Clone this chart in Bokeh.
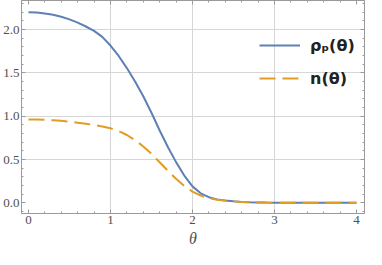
from bokeh.plotting import figure
from bokeh.models import (Range1d, FixedTicker, LinearAxis, Legend, LegendItem,
                          CustomJSTickFormatter)
from bokeh.embed import file_html
from bokeh.resources import INLINE

# ---- data ----
theta = [0.0, 0.1, 0.2, 0.3, 0.4, 0.5, 0.6, 0.7, 0.8, 0.9,
         1.0, 1.1, 1.2, 1.3, 1.4, 1.5, 1.6, 1.7, 1.8, 1.9,
         2.0, 2.1, 2.2, 2.3, 2.4, 2.5, 2.6, 2.7, 2.8, 2.9,
         3.0, 3.5, 4.0]
rho_p = [2.200, 2.196, 2.186, 2.170, 2.147, 2.117, 2.079, 2.035, 1.985, 1.915,
         1.815, 1.695, 1.555, 1.400, 1.230, 1.040, 0.835, 0.645, 0.470, 0.315,
         0.190, 0.110, 0.065, 0.040, 0.026, 0.017, 0.011, 0.007, 0.005, 0.003,
         0.002, 0.000, 0.000]
n_theta = [0.963, 0.961, 0.958, 0.953, 0.946, 0.936, 0.925, 0.913, 0.899, 0.881,
           0.860, 0.828, 0.783, 0.723, 0.651, 0.566, 0.468, 0.370, 0.277, 0.196,
           0.130, 0.083, 0.053, 0.036, 0.025, 0.017, 0.011, 0.007, 0.005, 0.003,
           0.002, 0.000, 0.000]
x_major = [0, 1, 2, 3, 4]
x_labels = ["0", "1", "2", "3", "4"]
x_minor = [i * 0.2 for i in range(-1, 21)]
y_major = [0.0, 0.5, 1.0, 1.5, 2.0]
y_labels = ["0.0", "0.5", "1.0", "1.5", "2.0"]
y_minor = [i * 0.1 for i in range(-2, 24)]
x_grid = [1, 2, 3]
y_grid = [0.5, 1.0, 1.5, 2.0]

BLUE = "#5E81B5"
ORANGE = "#E19C24"
FRAME = "#9a9a9a"
LABEL = "#505050"
SERIF = "'Liberation Serif', 'Times New Roman', serif"

p = figure(width=366, height=249, output_backend="svg", toolbar_location=None,
           x_range=Range1d(-0.085, 4.098), y_range=Range1d(-0.123, 2.335),
           min_border_left=0, min_border_right=2, min_border_top=0, min_border_bottom=0)
p.background_fill_color = "white"
p.border_fill_color = "white"
p.outline_line_color = FRAME

for ax, maj, mnr, labs in ((p.xaxis[0], x_major, x_minor, x_labels),
                           (p.yaxis[0], y_major, y_minor, y_labels)):
    ax.ticker = FixedTicker(ticks=maj, minor_ticks=mnr)
    ax.major_label_overrides = {float(t): s for t, s in zip(maj, labs)}
    ax.major_tick_in = 4
    ax.major_tick_out = 0
    ax.minor_tick_in = 2
    ax.minor_tick_out = 0
    ax.axis_line_color = FRAME
    ax.major_tick_line_color = FRAME
    ax.minor_tick_line_color = FRAME
    ax.major_label_text_font = SERIF
    ax.major_label_text_font_size = "13px"
    ax.major_label_text_color = LABEL
    ax.major_label_standoff = 2

p.xaxis.axis_label = "θ"
p.xaxis.axis_label_text_font = SERIF
p.xaxis.axis_label_text_font_style = "italic"
p.xaxis.axis_label_text_font_size = "16px"
p.xaxis.axis_label_text_color = LABEL
p.xaxis.axis_label_standoff = 3

empty = CustomJSTickFormatter(code="return ''")
for loc, maj, mnr in (("right", y_major, y_minor), ("above", x_major, x_minor)):
    ax = LinearAxis(ticker=FixedTicker(ticks=maj, minor_ticks=mnr), formatter=empty,
                    major_tick_in=4, major_tick_out=0, minor_tick_in=2, minor_tick_out=0,
                    axis_line_color=FRAME, major_tick_line_color=FRAME,
                    minor_tick_line_color=FRAME, major_label_standoff=0,
                    major_label_text_font_size="1px")
    p.add_layout(ax, loc)

p.xgrid.ticker = FixedTicker(ticks=x_grid)
p.ygrid.ticker = FixedTicker(ticks=y_grid)
p.xgrid.grid_line_color = "#d6d6d6"
p.ygrid.grid_line_color = "#d6d6d6"

r1 = p.line(theta, rho_p, line_color=BLUE, line_width=2)
r2 = p.line(theta, n_theta, line_color=ORANGE, line_width=2, line_dash="16 7")

legend = Legend(items=[LegendItem(label="ρₚ(θ)", renderers=[r1]),
                       LegendItem(label="n(θ)", renderers=[r2])],
                location=(238, 125), orientation="vertical",
                glyph_width=41, glyph_height=20, label_height=20, spacing=13,
                label_standoff=10, padding=0, margin=0,
                background_fill_alpha=0, border_line_alpha=0,
                label_text_font="DejaVu Sans", label_text_font_style="bold",
                label_text_font_size="16px", label_text_color="#222222")
p.add_layout(legend)

open("out.html", "w").write(file_html(p, INLINE))
